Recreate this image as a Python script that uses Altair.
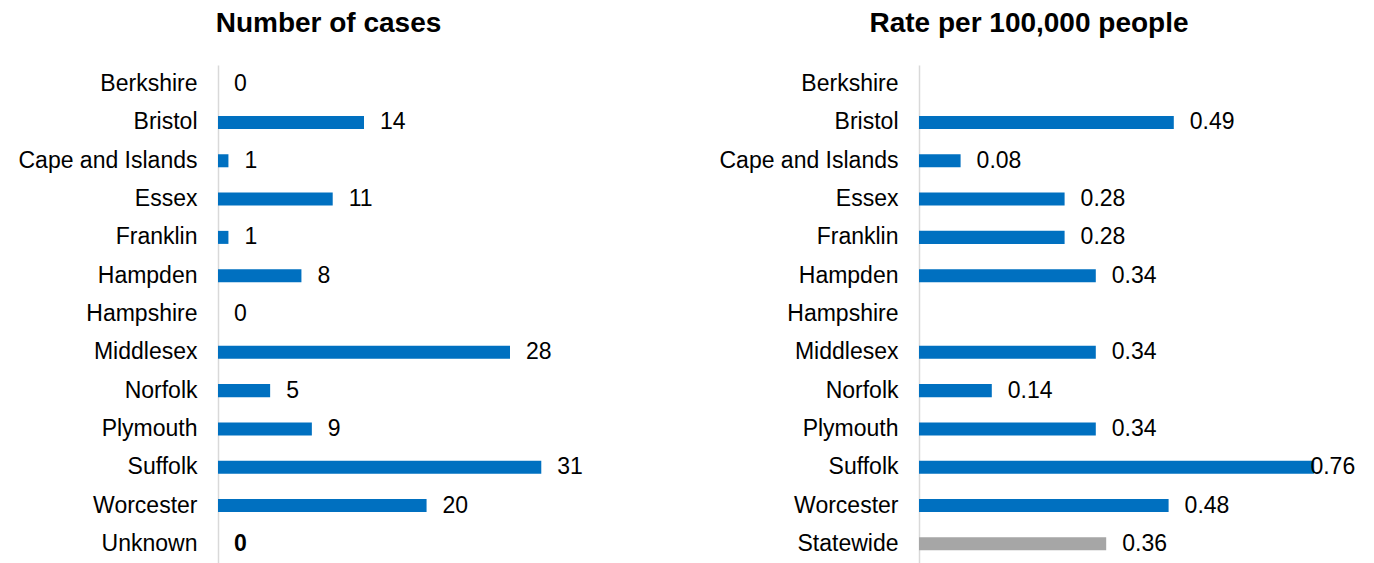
import altair as alt
import pandas as pd
import numpy as np

# ---- data ----
regions_cases = ["Berkshire", "Bristol", "Cape and Islands", "Essex", "Franklin",
                 "Hampden", "Hampshire", "Middlesex", "Norfolk", "Plymouth",
                 "Suffolk", "Worcester", "Unknown"]
cases = [0, 14, 1, 11, 1, 8, 0, 28, 5, 9, 31, 20, 0]

regions_rate = ["Berkshire", "Bristol", "Cape and Islands", "Essex", "Franklin",
                "Hampden", "Hampshire", "Middlesex", "Norfolk", "Plymouth",
                "Suffolk", "Worcester", "Statewide"]
rates = [None, 0.49, 0.08, 0.28, 0.28, 0.34, None, 0.34, 0.14, 0.34, 0.76, 0.48, 0.36]

title_cases = "Number of cases"
title_rate = "Rate per 100,000 people"

BLUE = "#0070C0"
GRAY = "#A6A6A6"
FONT = "Liberation Sans"
TXT = "#000000"
FS = 23

df1 = pd.DataFrame({"region": regions_cases, "value": cases})
df1["label"] = df1["value"].astype(str)

rate_arr = np.array([np.nan if r is None else r for r in rates], dtype=float)
df2 = pd.DataFrame({"region": regions_rate, "value": rate_arr})
df2["lx"] = np.minimum(df2["value"], 0.722)  # keep last label inside the panel, like the original


def yenc(order):
    return alt.Y("region:N", sort=order,
                 scale=alt.Scale(paddingInner=0.66, paddingOuter=0.33),
                 axis=alt.Axis(title=None, ticks=False, grid=False,
                               domainColor="#D9D9D9", domainWidth=1.5,
                               labelFontSize=FS, labelFont=FONT, labelColor=TXT,
                               labelPadding=21, labelLimit=400))


# ---- left panel ----
y1 = yenc(regions_cases)
x1 = alt.X("value:Q", scale=alt.Scale(domain=[0, 35], nice=False, zero=True), axis=None)
bars1 = alt.Chart(df1).mark_bar(color=BLUE).encode(y=y1, x=x1)
text1 = alt.Chart(df1).transform_filter("datum.region != 'Unknown'").mark_text(
    align="left", baseline="middle", dx=16, fontSize=FS, font=FONT, color=TXT
).encode(y=y1, x=x1, text="label:N")
text1b = alt.Chart(df1).transform_filter("datum.region == 'Unknown'").mark_text(
    align="left", baseline="middle", dx=16, fontSize=FS, font=FONT, color=TXT, fontWeight="bold"
).encode(y=y1, x=x1, text="label:N")

left = alt.layer(bars1, text1, text1b).properties(
    width=365, height=498,
    title=alt.TitleParams(title_cases, font=FONT, fontSize=28, fontWeight="bold", color=TXT,
                          anchor="middle", frame="group", dx=-72, offset=5,
                          baseline="alphabetic"))

# ---- right panel ----
y2 = yenc(regions_rate)
x2 = alt.X("value:Q", scale=alt.Scale(domain=[0, 0.8], nice=False, zero=True), axis=None)
bars2 = alt.Chart(df2).mark_bar().encode(
    y=y2, x=x2,
    color=alt.condition(alt.datum.region == "Statewide", alt.value(GRAY), alt.value(BLUE)))
text2 = alt.Chart(df2).mark_text(
    align="left", baseline="middle", dx=16, fontSize=FS, font=FONT, color=TXT
).encode(y=y2,
         x=alt.X("lx:Q", scale=alt.Scale(domain=[0, 0.8], nice=False, zero=True), axis=None),
         text=alt.Text("value:Q", format=".2f"))

right = alt.layer(bars2, text2).properties(
    width=416, height=498,
    title=alt.TitleParams(title_rate, font=FONT, fontSize=28, fontWeight="bold", color=TXT,
                          anchor="middle", frame="group", dx=-98, offset=5,
                          baseline="alphabetic"))

chart = alt.hconcat(left, right, spacing=336, bounds="flush").properties(
    padding={"left": 17, "top": 10, "right": 0, "bottom": 0},
    background="white"
).configure_view(strokeWidth=0, strokeOpacity=0)

chart.save("out.html", embed_options={"renderer": "svg", "actions": False})
